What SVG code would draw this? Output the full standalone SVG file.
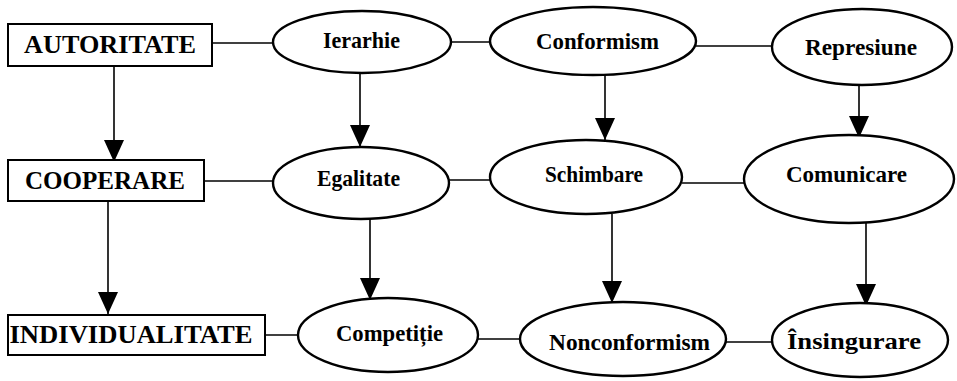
<svg xmlns="http://www.w3.org/2000/svg" width="957" height="381" viewBox="0 0 957 381">
<style>
.box{fill:#fff;stroke:#000;stroke-width:2}
.ell{fill:#fff;stroke:#000;stroke-width:2.4}
.bt{font-family:"Liberation Serif","Times New Roman",serif;font-weight:bold;font-size:25px;fill:#000;text-anchor:middle}
.et{font-family:"Liberation Serif","Times New Roman",serif;font-weight:bold;font-size:24px;fill:#000;text-anchor:middle}
.ln{stroke:#000;stroke-width:1.6;fill:none}
.ar{stroke:#000;stroke-width:1.6;fill:none;marker-end:url(#ah)}
</style>
<defs>
<marker id="ah" markerUnits="userSpaceOnUse" markerWidth="22" markerHeight="20" refX="22" refY="10" orient="auto" viewBox="0 0 22 20">
<path d="M0,0 L22,10 L0,20 Z" fill="#000"/>
</marker>
</defs>
<rect width="957" height="381" fill="#fff"/>
<g id="connectors">
<line class="ln" x1="212" y1="43" x2="273" y2="43"/>
<line class="ln" x1="451" y1="42" x2="490" y2="42"/>
<line class="ln" x1="696" y1="46" x2="772" y2="46"/>
<line class="ln" x1="204" y1="181" x2="273" y2="181"/>
<line class="ln" x1="449" y1="180" x2="490" y2="180"/>
<line class="ln" x1="682" y1="183" x2="744" y2="183"/>
<line class="ln" x1="265" y1="335" x2="298" y2="335"/>
<line class="ln" x1="478" y1="339" x2="520" y2="339"/>
<line class="ln" x1="726" y1="342" x2="772" y2="342"/>
<line class="ar" x1="114" y1="66" x2="114" y2="162"/>
<line class="ar" x1="360" y1="73" x2="360" y2="147"/>
<line class="ar" x1="605" y1="75" x2="605" y2="140"/>
<line class="ar" x1="859" y1="85" x2="859" y2="138"/>
<line class="ar" x1="108" y1="201" x2="108" y2="314"/>
<line class="ar" x1="370" y1="219" x2="370" y2="300"/>
<line class="ar" x1="612" y1="214" x2="612" y2="303"/>
<line class="ar" x1="866" y1="223" x2="866" y2="306"/>
</g>
<g id="autoritate"><rect class="box" x="8" y="24" width="204" height="42"/><text class="bt" x="110" y="53" textLength="172" lengthAdjust="spacingAndGlyphs">AUTORITATE</text></g>
<g id="ierarhie"><ellipse class="ell" cx="362" cy="42" rx="89" ry="31"/><text class="et" x="361.5" y="48" textLength="77" lengthAdjust="spacingAndGlyphs">Ierarhie</text></g>
<g id="conformism"><ellipse class="ell" cx="593" cy="41" rx="103" ry="34"/><text class="et" x="597.5" y="49" textLength="123" lengthAdjust="spacingAndGlyphs">Conformism</text></g>
<g id="represiune"><ellipse class="ell" cx="862" cy="47" rx="90" ry="38"/><text class="et" x="861" y="55" textLength="112" lengthAdjust="spacingAndGlyphs">Represiune</text></g>
<g id="cooperare"><rect class="box" x="8" y="160" width="196" height="41"/><text class="bt" x="105" y="189" textLength="160" lengthAdjust="spacingAndGlyphs">COOPERARE</text></g>
<g id="egalitate"><ellipse class="ell" cx="361" cy="183" rx="88" ry="36"/><text class="et" x="358.5" y="186" textLength="83" lengthAdjust="spacingAndGlyphs">Egalitate</text></g>
<g id="schimbare"><ellipse class="ell" cx="586" cy="177" rx="96" ry="37"/><text class="et" x="594" y="182" textLength="98" lengthAdjust="spacingAndGlyphs">Schimbare</text></g>
<g id="comunicare"><ellipse class="ell" cx="849" cy="179" rx="105" ry="44"/><text class="et" x="846.5" y="182" textLength="121" lengthAdjust="spacingAndGlyphs">Comunicare</text></g>
<g id="individualitate"><rect class="box" x="8" y="315" width="257" height="40"/><text class="bt" x="131" y="343" textLength="243" lengthAdjust="spacingAndGlyphs">INDIVIDUALITATE</text></g>
<g id="competitie"><ellipse class="ell" cx="388" cy="335" rx="90" ry="37"/><text class="et" x="389.5" y="341" textLength="107" lengthAdjust="spacingAndGlyphs">Competiție</text></g>
<g id="nonconformism"><ellipse class="ell" cx="623" cy="339" rx="103" ry="37"/><text class="et" x="629.5" y="350" textLength="161" lengthAdjust="spacingAndGlyphs">Nonconformism</text></g>
<g id="insingurare"><ellipse class="ell" cx="860" cy="340" rx="88" ry="37"/><text class="et" x="854" y="349" textLength="134" lengthAdjust="spacingAndGlyphs">Însingurare</text></g>
</svg>
